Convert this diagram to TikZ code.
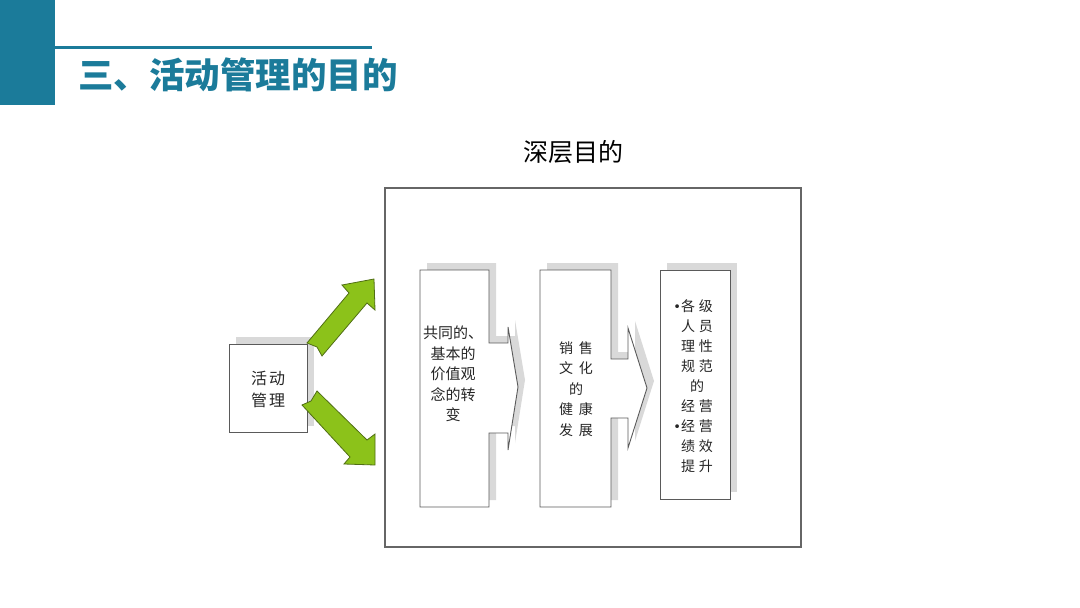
\documentclass[tikz,border=0pt]{standalone}
\usepackage{fontspec}
\setmainfont{Noto Sans CJK SC}
\newfontfamily\dejavu{DejaVu Sans}
\definecolor{teal1}{RGB}{27,123,154}
\definecolor{arrgreen}{RGB}{140,194,26}
\definecolor{arredge}{RGB}{80,110,20}
\definecolor{shadowgray}{RGB}{217,217,217}
\definecolor{boxedge}{RGB}{90,90,90}
\tikzset{
  boxshape/.style={draw=boxedge, line width=0.9pt, fill=white},
  shadowshape/.style={fill=shadowgray, draw=none},
  greenarrow/.style={fill=arrgreen, draw=arredge, line width=0.8pt, line join=miter},
  bodytext/.style={font=\fontsize{14pt}{20.5pt}\selectfont, align=center, inner sep=0pt, text=black!85},
}
\newcommand{\bul}{\llap{\dejavu\fontsize{13pt}{13pt}\selectfont •}}
\begin{document}
\begin{tikzpicture}[x=1pt,y=-1pt]
\useasboundingbox (0,0) rectangle (1080,608);
% header
\fill[teal1] (0,0) rectangle (55,105);
\draw[teal1, line width=3pt] (55,47) -- (372,47);
\node[anchor=west, inner sep=0pt, text=teal1, font=\fontsize{35.5pt}{38pt}\selectfont\bfseries] (title) at (78,75) {三、活动管理的目的};
% deep purpose title
\node[inner sep=0pt, font=\fontsize{25pt}{28pt}\selectfont] (deep) at (573,152) {深层目的};
% big box
\draw[draw=gray!80!black, line width=1.3pt] (385,188) rectangle (801,547);
\coordinate (bigbox) at (593,367);
% left box
\fill[shadowgray] (236,337) rectangle (314,426);
\draw[boxshape] (229,344) rectangle (307,432);
\node[bodytext, font=\fontsize{16pt}{22pt}\selectfont] (act) at (268,389) {活\hspace{2pt}动\\管\hspace{2pt}理};
% green arrows
\draw[greenarrow] (307,343) -- (349,293) -- (342,285) -- (374,279) -- (375,310) -- (367,303) -- (322,356) -- (317,347) -- cycle;
\draw[greenarrow] (317,391) -- (367,440) -- (375,434) -- (375,465) -- (344,464) -- (350,457) -- (302,405) -- (311,401) -- cycle;
% box 1
\begin{scope}[shift={(7,-7)}]
\fill[shadowgray] (420,270) -- (489,270) -- (489,343) -- (508,343) -- (508,327) -- (518,387) -- (508,450) -- (508,433) -- (489,433) -- (489,507) -- (420,507) -- cycle;
\end{scope}
\draw[boxshape] (420,270) -- (489,270) -- (489,343) -- (508,343) -- (508,327) -- (518,387) -- (508,450) -- (508,433) -- (489,433) -- (489,507) -- (420,507) -- cycle;
\node[bodytext, font=\fontsize{15pt}{20.5pt}\selectfont] (b1) at (453,374) {共同的、\\基本的\\价值观\\念的转\\变};
% box 2
\begin{scope}[shift={(7,-7)}]
\fill[shadowgray] (540,270) -- (611,270) -- (611,359) -- (628,359) -- (628,328) -- (647,388) -- (628,448) -- (628,418) -- (611,418) -- (611,507) -- (540,507) -- cycle;
\end{scope}
\draw[boxshape] (540,270) -- (611,270) -- (611,359) -- (628,359) -- (628,328) -- (647,388) -- (628,448) -- (628,418) -- (611,418) -- (611,507) -- (540,507) -- cycle;
\node[bodytext] (b2) at (576,389) {销\hspace{6pt}售\\文\hspace{6pt}化\\的\\健\hspace{6pt}康\\发\hspace{6pt}展};
% box 3
\fill[shadowgray] (667,263) rectangle (737,492);
\draw[boxshape] (660,270) rectangle (730,499);
\node[bodytext, font=\fontsize{14pt}{20pt}\selectfont] (b3) at (697,386) {\bul 各\hspace{4pt}级\\人\hspace{4pt}员\\理\hspace{4pt}性\\规\hspace{4pt}范\\的\\经\hspace{4pt}营\\\bul 经\hspace{4pt}营\\绩\hspace{4pt}效\\提\hspace{4pt}升};
\end{tikzpicture}
\end{document}
